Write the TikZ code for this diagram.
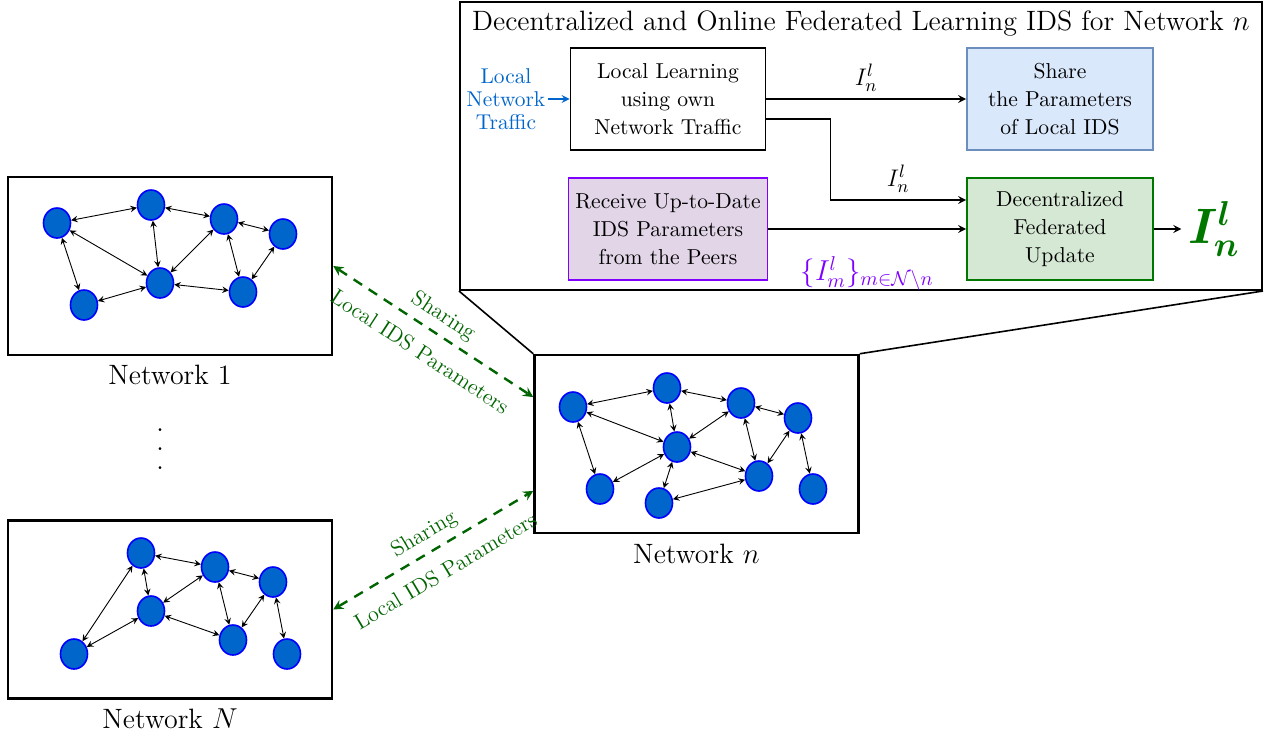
\documentclass[tikz,border=0pt]{standalone}
\usepackage[intlimits]{mathtools}
\usepackage{amssymb}
\usepackage{bm}
\usepackage{tikz}
\usetikzlibrary{positioning,shapes.geometric,calc}

\definecolor{peerblue}{RGB}{0,102,204}
\definecolor{peerrim}{RGB}{0,0,255}
\definecolor{sharegreen}{RGB}{0,100,0}
\definecolor{updgreen}{RGB}{0,120,0}
\definecolor{rcvpurple}{RGB}{127,0,255}
\definecolor{rcvfill}{RGB}{225,213,231}
\definecolor{sharefill}{RGB}{218,232,252}
\definecolor{shareline}{RGB}{108,142,191}
\definecolor{updfill}{RGB}{213,232,212}

\tikzset{
  peer/.style={ellipse,draw=peerrim,fill=peerblue,line width=0.8pt,minimum width=13.5pt,minimum height=15pt,inner sep=0pt},
  link/.style={<->,>=stealth,line width=0.45pt},
  netbox/.style={draw,line width=1.25pt,minimum width=162pt,minimum height=89pt},
  netname/.style={font=\fontsize{14}{16}\selectfont},
  stage/.style={draw,line width=0.8pt,align=center,minimum height=51pt,font=\fontsize{10.8}{14}\selectfont},
  flow/.style={->,>=stealth,line width=0.8pt},
  tag/.style={font=\fontsize{13}{15}\selectfont},
  sharing/.style={<->,>=stealth,dash pattern=on 5pt off 4pt,line width=1.2pt,sharegreen,font=\fontsize{11}{13}\selectfont},
}

\begin{document}
\begin{tikzpicture}[x=0.5pt,y=-0.5pt,node distance=196pt,on grid]
\useasboundingbox (0,0) rectangle (1266,739);

% federated learning inside network n
\node[draw,line width=1pt,minimum width=401pt,minimum height=144pt] (fl) at (861,146) {};
\node[anchor=north,yshift=-1.5pt,font=\fontsize{14}{16}\selectfont] (title) at (fl.north) {Decentralized and Online Federated Learning IDS for Network $n$};
\node[stage,minimum width=97.5pt] (learn) at (668,99) {Local Learning\\using own\\Network Traffic};
\node[stage,minimum width=93pt,fill=sharefill,draw=shareline,right=of learn] (share) {Share\\the Parameters\\of Local IDS};
\node[stage,minimum width=97.5pt,fill=rcvfill,draw=rcvpurple,below=65pt of learn] (recv) {Receive Up-to-Date\\IDS Parameters\\from the Peers};
\node[stage,minimum width=93pt,fill=updfill,draw=updgreen,right=of recv] (upd) {Decentralized\\Federated\\Update};
\node[align=center,text=peerblue,inner sep=1pt,font=\fontsize{10.7}{11.5}\selectfont,left=81pt of learn] (traffic) {Local\\Network\\Traffic};
\node[text=updgreen,font=\fontsize{23}{26}\selectfont,right=77pt of upd] (out) {$\bm{I_n^l}$};

\draw[flow,peerblue] (traffic) -- (learn);
\draw[flow] (learn) -- node[above,tag] {$I_n^l$} (share);
\draw[flow] ([yshift=-10pt]learn.east) -- ++(64,0) |- node[pos=0.75,above,tag] {$I_n^l$} ([yshift=14.5pt]upd.west);
\draw[flow] (recv) -- node[below=10pt,font=\fontsize{14}{16}\selectfont,text=rcvpurple] {$\{I_m^l\}_{m\in\mathcal{N}\setminus n}$} (upd);
\draw[flow] (upd) -- (out);

% the three networks
\node[netbox] (net1) at (170,266) {};
\node[netname,below=54.5pt of net1] (name1) {Network 1};
\node[netbox] (netN) at (170,609.5) {};
\node[netname,below=54.5pt of netN] (nameN) {Network $N$};
\node[netbox] (netn) at (696.5,444) {};
\node[netname,below=55pt of netn] (namen) {Network $n$};
\node[align=center,font=\fontsize{17}{9.5}\selectfont] (dots) at (160,449) {.\\.\\.};

\draw[line width=0.8pt] (fl.south west) -- (netn.north west) (fl.south east) -- (netn.north east);

% network 1
\foreach \name/\x/\y in {a/57/223,b/151/205,c/224/219,d/283/234,e/160/283,f/84/305,g/243/292}
  \node[peer] (one\name) at (\x,\y) {};
\foreach \s/\t in {a/b,b/c,c/d,a/e,b/e,c/e,c/g,d/g,e/g,a/f,f/e}
  \draw[link] (one\s) -- (one\t);

% network N
\foreach \name/\x/\y in {a/141/553,b/215/567,c/273/582,d/151/611,e/74/654,f/233/640,g/287/654}
  \node[peer] (last\name) at (\x,\y) {};
\foreach \s/\t in {a/b,b/c,a/d,b/d,b/f,c/f,c/g,d/f,a/e,e/d}
  \draw[link] (last\s) -- (last\t);

% network n
\foreach \name/\x/\y in {a/573/407,b/667/388,c/741/403,d/798/418,e/677/447,f/600/489,g/659/503,h/759/476,i/813/489}
  \node[peer] (own\name) at (\x,\y) {};
\foreach \s/\t in {a/b,b/c,c/d,a/e,b/e,c/e,c/h,d/h,d/i,e/h,a/f,f/e,e/g,g/h}
  \draw[link] (own\s) -- (own\t);

% sharing with the peers
\draw[sharing] (net1.east) -- node[sloped,above] {Sharing} node[sloped,below=4pt] {Local IDS Parameters} ($(netn.north west)!0.24!(netn.south west)$);
\draw[sharing] (netN.east) -- node[sloped,above] {Sharing} node[sloped,below=4pt] {Local IDS Parameters} ($(netn.north west)!0.76!(netn.south west)$);
\end{tikzpicture}
\end{document}
